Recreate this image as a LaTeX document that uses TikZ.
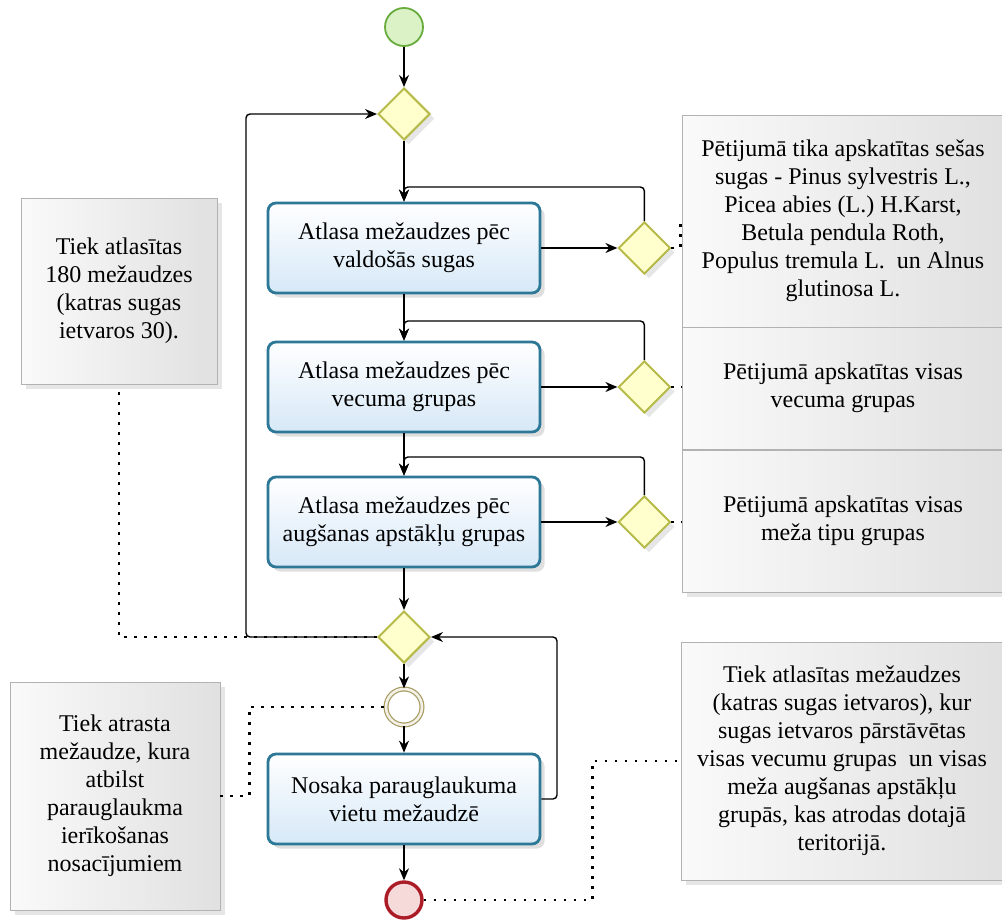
\documentclass[tikz,border=0pt]{standalone}
\usepackage{fontspec}
\setmainfont{Liberation Serif}
\usetikzlibrary{positioning,shapes.geometric,arrows.meta,shadows}

\definecolor{taskline}{RGB}{45,120,150}
\definecolor{taskfill}{RGB}{214,232,247}
\definecolor{gateline}{RGB}{182,186,72}
\definecolor{gatefill}{RGB}{255,255,205}
\definecolor{startline}{RGB}{104,172,62}
\definecolor{startfill}{RGB}{218,242,198}
\definecolor{endline}{RGB}{172,28,38}
\definecolor{endfill}{RGB}{246,218,218}
\definecolor{interline}{RGB}{166,156,96}

\begin{document}
\begin{tikzpicture}[x=0.5pt,y=-0.5pt,font=\fontsize{12}{14}\selectfont,
  task/.style={rectangle,rounded corners=4pt,draw=taskline,line width=1.4pt,
    top color=white,bottom color=taskfill,minimum width=136pt,minimum height=45pt,
    align=center,drop shadow={opacity=0.25}},
  gate/.style={diamond,draw=gateline,line width=1pt,fill=gatefill,
    minimum width=26pt,minimum height=26pt,inner sep=0pt,drop shadow={opacity=0.2}},
  startev/.style={circle,draw=startline,line width=0.9pt,fill=startfill,minimum size=19pt},
  interev/.style={circle,draw=interline,line width=0.6pt,double=white!85!interline,
    double distance=1.3pt,fill=white,minimum size=18pt},
  endev/.style={circle,draw=endline,line width=1.7pt,fill=endfill,minimum size=18pt},
  note/.style={rectangle,draw=gray!60,left color=gray!4,right color=gray!24,
    align=center,inner sep=0pt,drop shadow={opacity=0.2}},
  flow/.style={-{Stealth[length=6pt,width=5pt]},line width=0.7pt,rounded corners=2pt},
  assoc/.style={line width=1.3pt,dash pattern=on 1.3pt off 3.7pt}]
\useasboundingbox (0,0) rectangle (1002,921);

% main column
\node[startev] (start) at (404,27) {};
\node[gate] (g0) at (404,114) {};
\node[task] (t1) at (404,248) {Atlasa mežaudzes pēc\\valdošās sugas};
\node[task] (t2) at (404,387) {Atlasa mežaudzes pēc\\vecuma grupas};
\node[task] (t3) at (404,522) {Atlasa mežaudzes pēc\\augšanas apstākļu grupas};
\node[gate] (gm) at (404,637) {};
\node[interev] (ie) at (404,707) {};
\node[task] (t4) at (404,799) {Nosaka parauglaukuma\\vietu mežaudzē};
\node[endev] (end) at (404,900) {};

% side gateways
\node[gate] (g1) [right=38pt of t1] {};
\node[gate] (g2) [right=38pt of t2] {};
\node[gate] (g3) [right=38pt of t3] {};

% notes
\node[note,minimum width=161pt,minimum height=106pt] (n1) at (843,221)
  {Pētijumā tika apskatītas sešas\\sugas - Pinus sylvestris L.,\\Picea abies (L.) H.Karst,\\Betula pendula Roth,\\Populus tremula L.~ un Alnus\\glutinosa L.};
\node[note,minimum width=161pt,minimum height=61pt] (n2) at (843,388)
  {Pētijumā apskatītas visas\\vecuma grupas};
\node[note,minimum width=161pt,minimum height=71pt] (n3) at (843,521)
  {Pētijumā apskatītas visas\\meža tipu grupas};
\node[note,minimum width=161pt,minimum height=119pt] (n4) at (842,761)
  {Tiek atlasītas mežaudzes\\(katras sugas ietvaros), kur\\sugas ietvaros pārstāvētas\\visas vecumu grupas~ un visas\\meža augšanas apstākļu\\grupās, kas atrodas dotajā\\teritorijā.};
\node[note,minimum width=98pt,minimum height=93pt] (nl1) at (119,291)
  {Tiek atlasītas\\180 mežaudzes\\(katras sugas\\ietvaros 30).};
\node[note,minimum width=105pt,minimum height=114pt] (nl2) at (115,796)
  {Tiek atrasta\\mežaudze, kura\\atbilst\\parauglaukma\\ierīkošanas\\nosacījumiem};

% bends
\coordinate (r1) at (404,187);
\coordinate (r2) at (404,321);
\coordinate (r3) at (404,457);
\coordinate (lb) at (246,114);
\coordinate (rb) at (557,637);

% associations
\draw[assoc] (g1.east) -- ++(9,0) |- (n1.west);
\draw[assoc] (g2.east) -- (g2.east -| n2.west);
\draw[assoc] (g3.east) -- (g3.east -| n3.west);
\draw[assoc] (nl1.south) ++(0,8) |- (gm.west);
\draw[assoc] (nl2.east) -- ++(29,0) |- (ie.west);
\draw[assoc] (end.east) -- ++(169,0) |- (n4.west);

% sequence flows
\draw[flow] (start) -- (g0);
\draw[flow] (g0) -- (t1);
\draw[flow] (t1) -- (g1);
\draw[flow] (g1.north) |- (r1) -- (t1.north);
\draw[flow] (t1) -- (t2);
\draw[flow] (t2) -- (g2);
\draw[flow] (g2.north) |- (r2) -- (t2.north);
\draw[flow] (t2) -- (t3);
\draw[flow] (t3) -- (g3);
\draw[flow] (g3.north) |- (r3) -- (t3.north);
\draw[flow] (t3) -- (gm);
\draw[flow] (gm.west) -| (lb) -- (g0.west);
\draw[flow] (gm) -- (ie);
\draw[flow] (ie) -- (t4);
\draw[flow] (t4.east) -| (rb) -- (gm.east);
\draw[flow] (t4) -- (end);
\end{tikzpicture}
\end{document}
